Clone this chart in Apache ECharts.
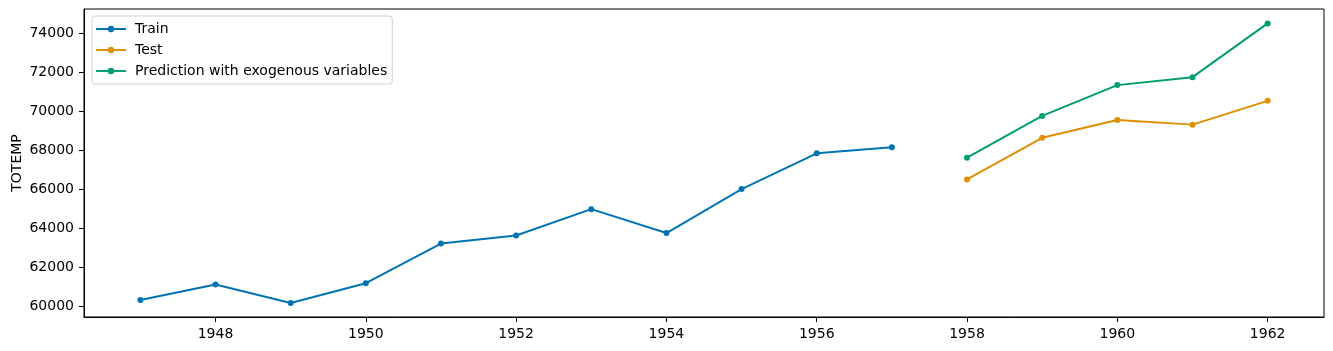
<!DOCTYPE html>
<html><head><meta charset="utf-8">
<script src="https://cdn.jsdelivr.net/npm/echarts@6/dist/echarts.min.js"></script>
<style>html,body{margin:0;padding:0;background:#fff}#c{width:1333px;height:351px}</style>
</head><body><div id="c"></div>
<script>
const trainYears = [1947,1948,1949,1950,1951,1952,1953,1954,1955,1956,1957];
const trainValues = [60323,61122,60171,61187,63221,63639,64989,63761,66019,67857,68169];
const testYears = [1958,1959,1960,1961,1962];
const testValues = [66513,68655,69564,69331,70551];
const predValues = [67630,69780,71360,71770,74530];
const xTicks = [1948,1950,1952,1954,1956,1958,1960,1962];
const yTicks = [60000,62000,64000,66000,68000,70000,72000,74000];

const font = 'DejaVu Sans';
const chart = echarts.init(document.getElementById('c'));
function ser(name, xs, ys, color){
  return {name, type:'line', data: xs.map((x,i)=>[x, ys[i]]),
    symbol:'circle', symbolSize:6, showSymbol:true,
    lineStyle:{color, width:2}, itemStyle:{color}, color, animation:false};
}
chart.setOption({
  animation:false,
  textStyle:{fontFamily:font},
  grid:{left:84, right:9, top:9, bottom:34, show:true, borderColor:'#000', borderWidth:1,
    containLabel:false, outerBoundsMode:'none'},
  legend:{orient:'vertical', left:92, top:16, itemWidth:30, itemHeight:8, itemGap:7,
    padding:[6,5,6,3], borderColor:'#d0d0d0', borderWidth:1, borderRadius:3,
    textStyle:{fontFamily:font, fontSize:14, color:'#000', padding:[0,0,0,4]},
    data:['Train','Test','Prediction with exogenous variables']},
  xAxis:{type:'value', min:1946.25, max:1962.75,
    splitLine:{show:false},
    axisLine:{onZero:false, lineStyle:{color:'#000'}},
    axisTick:{show:true, length:5, lineStyle:{color:'#000'}, customValues:xTicks},
    axisLabel:{customValues:xTicks, color:'#000', fontSize:14, fontFamily:font, margin:10, formatter:v=>String(v)}},
  yAxis:{type:'value', min:59450, max:75270,
    name:'TOTEMP', nameLocation:'middle', nameGap:60, nameRotate:90, nameMoveOverlap:false,
    nameTextStyle:{color:'#000', fontSize:14, fontFamily:font},
    splitLine:{show:false},
    axisLine:{show:true, onZero:false, lineStyle:{color:'#000'}},
    axisTick:{show:true, length:5, lineStyle:{color:'#000'}, customValues:yTicks},
    axisLabel:{customValues:yTicks, color:'#000', fontSize:14, fontFamily:font, margin:10, formatter:v=>String(v)}},
  series:[
    ser('Train', trainYears, trainValues, '#0173b2'),
    ser('Test', testYears, testValues, '#de8f05'),
    ser('Prediction with exogenous variables', testYears, predValues, '#029e73')
  ]
});
</script></body></html>
